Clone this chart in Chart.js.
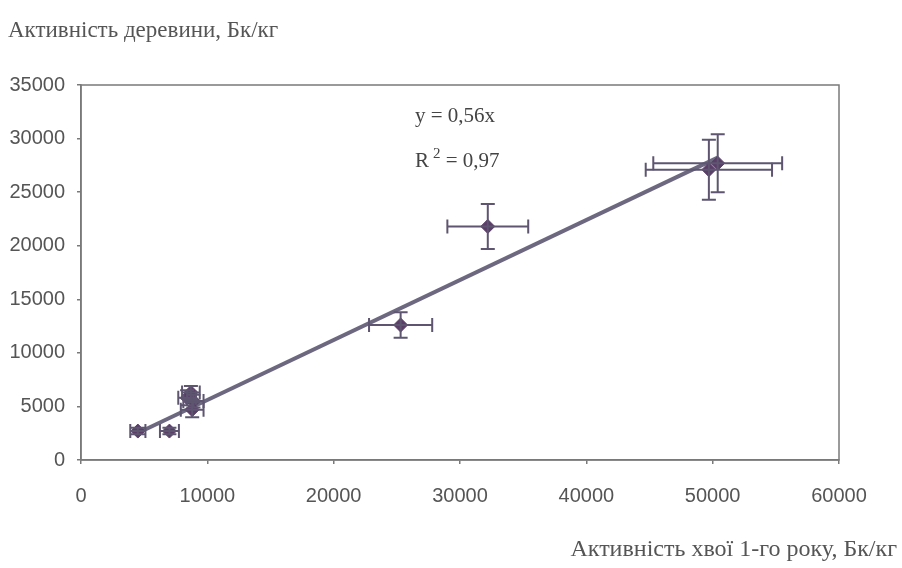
<!DOCTYPE html>
<html>
<head>
<meta charset="utf-8">
<script src="https://cdn.jsdelivr.net/npm/chart.js@4/dist/chart.umd.min.js"></script>
<style>
  html, body { margin: 0; padding: 0; background: #ffffff; }
  #wrap { position: relative; width: 902px; height: 568px; }
  canvas { display: block; }
</style>
</head>
<body>
<div id="wrap"><canvas id="c" width="902" height="568"></canvas></div>
<script>
// Data
const xValues = [4500, 7000, 8400, 8700, 8900, 8800, 25300, 32200, 49700, 50400];
const yValues = [2700, 2700, 5800, 6300, 5500, 4700, 12600, 21800, 27100, 27700];
const xErrors = [600, 750, 700, 700, 800, 900, 2500, 3200, 5000, 5100];
const yErrors = [300, 300, 700, 600, 600, 700, 1200, 2100, 2800, 2700];
const slope = 0.56;
const rSquared = '0,97';
const xTicks = [0, 10000, 20000, 30000, 40000, 50000, 60000];
const yTicks = [0, 5000, 10000, 15000, 20000, 25000, 30000, 35000];
const yTitle = 'Активність деревини, Бк/кг';
const xTitle = 'Активність хвої 1-го року, Бк/кг';

const points = xValues.map((x, i) => ({ x: x, y: yValues[i] }));
const xMin = Math.min(...xValues), xMax = Math.max(...xValues);
const trend = [{ x: xMin, y: slope * xMin }, { x: xMax, y: slope * xMax }];

const axisColor = '#7a7a7a';
const textColor = '#555555';
const barColor = '#5e5570';

const errorBars = {
  id: 'errorBars',
  afterDatasetsDraw(chart) {
    const ctx = chart.ctx, xs = chart.scales.x, ys = chart.scales.y;
    ctx.save();
    ctx.strokeStyle = barColor;
    ctx.lineWidth = 2;
    const cap = 7;
    points.forEach((p, i) => {
      const cx = xs.getPixelForValue(p.x), cy = ys.getPixelForValue(p.y);
      const x1 = xs.getPixelForValue(p.x - xErrors[i]), x2 = xs.getPixelForValue(p.x + xErrors[i]);
      const y1 = ys.getPixelForValue(p.y - yErrors[i]), y2 = ys.getPixelForValue(p.y + yErrors[i]);
      ctx.beginPath();
      ctx.moveTo(x1, cy); ctx.lineTo(x2, cy);
      ctx.moveTo(x1, cy - cap); ctx.lineTo(x1, cy + cap);
      ctx.moveTo(x2, cy - cap); ctx.lineTo(x2, cy + cap);
      ctx.moveTo(cx, y1); ctx.lineTo(cx, y2);
      ctx.moveTo(cx - cap, y1); ctx.lineTo(cx + cap, y1);
      ctx.moveTo(cx - cap, y2); ctx.lineTo(cx + cap, y2);
      ctx.stroke();
    });
    ctx.restore();
  }
};

const frameAndText = {
  id: 'frameAndText',
  beforeDatasetsDraw(chart) {
    const ctx = chart.ctx, a = chart.chartArea;
    ctx.save();
    ctx.strokeStyle = axisColor;
    ctx.lineWidth = 1.5;
    ctx.strokeRect(a.left, a.top, a.right - a.left, a.bottom - a.top);
    ctx.restore();
  },
  afterDraw(chart) {
    const ctx = chart.ctx;
    ctx.save();
    ctx.fillStyle = textColor;
    ctx.font = '23px "Liberation Serif", "Times New Roman", serif';
    ctx.textBaseline = 'alphabetic';
    ctx.textAlign = 'left';
    ctx.fillText(yTitle, 8, 37);
    ctx.font = '24px "Liberation Serif", "Times New Roman", serif';
    ctx.textAlign = 'right';
    ctx.fillText(xTitle, 897, 556);
    ctx.fillStyle = '#444444';
    ctx.font = '21px "Liberation Serif", "Times New Roman", serif';
    ctx.textAlign = 'left';
    const ax = 415;
    ctx.fillText('y = ' + String(slope).replace('.', ',') + 'x', ax, 122);
    ctx.fillText('R', ax, 167);
    const rw = ctx.measureText('R').width;
    ctx.font = '15px "Liberation Serif", "Times New Roman", serif';
    ctx.fillText('2', ax + rw + 4, 158);
    const sw = ctx.measureText('2').width;
    ctx.font = '21px "Liberation Serif", "Times New Roman", serif';
    ctx.fillText(' = ' + rSquared, ax + rw + 4 + sw, 167);
    ctx.restore();
  }
};

new Chart(document.getElementById('c'), {
  data: {
    datasets: [
      {
        type: 'line',
        data: trend,
        borderColor: '#6d6880',
        borderWidth: 4,
        pointRadius: 0,
        fill: false,
        order: 2
      },
      {
        type: 'scatter',
        data: points,
        pointStyle: 'rectRot',
        pointRadius: 7,
        backgroundColor: '#5a3e68',
        borderColor: '#5a3e68',
        borderWidth: 1,
        order: 1
      }
    ]
  },
  plugins: [errorBars, frameAndText],
  options: {
    responsive: false,
    animation: false,
    layout: { padding: { top: 85, right: 63, left: 0, bottom: 0 } },
    plugins: { legend: { display: false }, tooltip: { enabled: false } },
    scales: {
      x: {
        type: 'linear',
        min: 0, max: 60000,
        afterBuildTicks(s) { s.ticks = xTicks.map(v => ({ value: v })); },
        afterFit(s) { s.height = 108; },
        grid: { drawOnChartArea: false, tickLength: 4, color: axisColor, lineWidth: 1.5 },
        border: { color: axisColor, width: 1.5 },
        ticks: { color: textColor, padding: 20, maxRotation: 0,
                 callback: v => String(v),
                 font: { family: '"Liberation Sans", Arial, sans-serif', size: 20 } }
      },
      y: {
        type: 'linear',
        min: 0, max: 35000,
        afterBuildTicks(s) { s.ticks = yTicks.map(v => ({ value: v })); },
        afterFit(s) { s.width = 81; },
        grid: { drawOnChartArea: false, tickLength: 4, color: axisColor, lineWidth: 1.5 },
        border: { color: axisColor, width: 1.5 },
        ticks: { color: textColor, padding: 12,
                 callback: v => String(v),
                 font: { family: '"Liberation Sans", Arial, sans-serif', size: 20 } }
      }
    }
  }
});
</script>
</body>
</html>
